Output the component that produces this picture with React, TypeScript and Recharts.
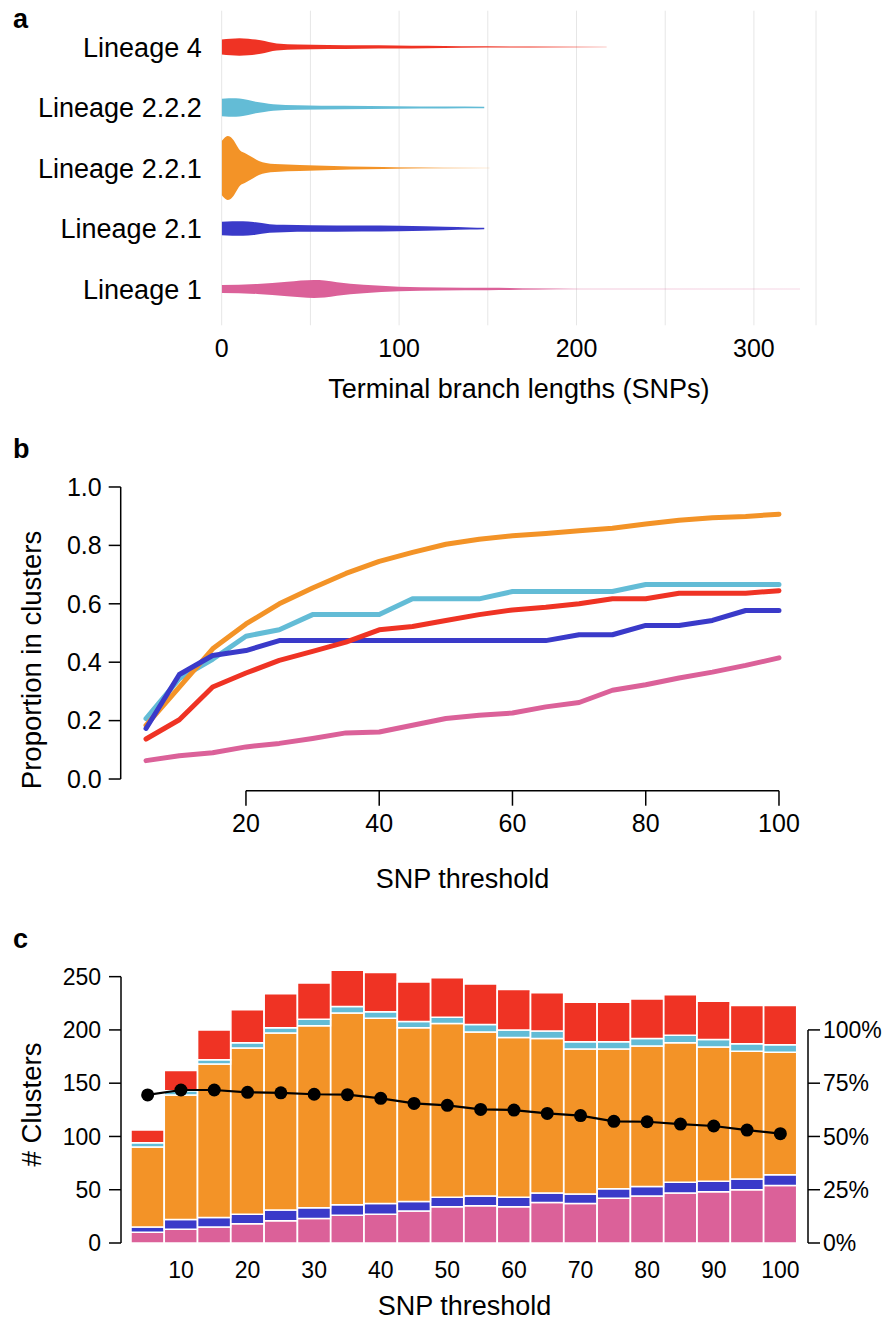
import React from 'react';
import {
  ComposedChart, Area, Line, Bar, XAxis, YAxis, CartesianGrid, ReferenceLine, Label,
} from 'recharts';

const FONT = '"Liberation Sans", Arial, Helvetica, sans-serif';

// ---------- colours ----------
const C_L4 = '#EF3324';
const C_L222 = '#63BCD6';
const C_L221 = '#F39327';
const C_L21 = '#3A3AC9';
const C_L1 = '#DB6199';

// ---------- panel a: violin half-width profiles (SNPs, half-width in % of row spacing) ----------
const lineageNames = ['Lineage 1', 'Lineage 2.1', 'Lineage 2.2.1', 'Lineage 2.2.2', 'Lineage 4'];
const violinL4 = [
  { snp: 0, w: 12.4 }, { snp: 5, w: 13.7 }, { snp: 10, w: 14.5 }, { snp: 15, w: 13.7 },
  { snp: 22, w: 11.1 }, { snp: 31, w: 5.8 }, { snp: 43, w: 4.1 }, { snp: 60, w: 3.3 },
  { snp: 79, w: 2.8 }, { snp: 98, w: 2.5 }, { snp: 116, w: 2.0 }, { snp: 135, w: 1.3 },
  { snp: 164, w: 1.0 }, { snp: 190, w: 0.8 }, { snp: 217, w: 0.7 },
];
const violinL222 = [
  { snp: 0, w: 14.4 }, { snp: 4, w: 15.2 }, { snp: 8, w: 15.4 }, { snp: 12, w: 14.0 },
  { snp: 18, w: 10.2 }, { snp: 24, w: 7.4 }, { snp: 29, w: 5.5 }, { snp: 43, w: 3.8 },
  { snp: 69, w: 2.8 }, { snp: 98, w: 2.1 }, { snp: 126, w: 1.7 }, { snp: 148, w: 1.3 },
];
const violinL221 = [
  { snp: 0, w: 44.6 }, { snp: 1.5, w: 49.6 }, { snp: 3.3, w: 52.9 }, { snp: 5, w: 51.2 },
  { snp: 7, w: 44.6 }, { snp: 9, w: 34.7 }, { snp: 10.4, w: 28.9 }, { snp: 13, w: 24.8 },
  { snp: 16, w: 19.8 }, { snp: 18, w: 16.5 }, { snp: 21, w: 11.6 }, { snp: 25, w: 8.3 },
  { snp: 30, w: 6.6 }, { snp: 44, w: 5.0 }, { snp: 63, w: 3.3 }, { snp: 82, w: 2.1 },
  { snp: 100, w: 1.3 }, { snp: 125, w: 1.0 }, { snp: 151, w: 0.8 },
];
const violinL21 = [
  { snp: 0, w: 11.1 }, { snp: 6, w: 11.9 }, { snp: 12, w: 12.1 }, { snp: 18, w: 10.7 },
  { snp: 27, w: 7.1 }, { snp: 35, w: 6.0 }, { snp: 50, w: 5.5 }, { snp: 79, w: 5.0 },
  { snp: 100, w: 4.5 }, { snp: 115, w: 3.6 }, { snp: 126, w: 2.8 }, { snp: 140, w: 1.7 },
  { snp: 148, w: 1.2 },
];
const violinL1 = [
  { snp: 0, w: 6.6 }, { snp: 20, w: 8.3 }, { snp: 37, w: 12.1 }, { snp: 52, w: 14.9 },
  { snp: 58, w: 14.2 }, { snp: 65, w: 11.1 }, { snp: 80, w: 6.9 }, { snp: 100, w: 3.8 },
  { snp: 124, w: 2.5 }, { snp: 150, w: 2.0 }, { snp: 178, w: 1.3 }, { snp: 200, w: 1.0 },
  { snp: 250, w: 0.8 }, { snp: 326, w: 0.7 },
];
const branchTicks = [0, 50, 100, 150, 200, 250, 300];

// ---------- panel b: proportion in clusters ----------
const snpThresholds = [5, 10, 15, 20, 25, 30, 35, 40, 45, 50, 55, 60, 65, 70, 75, 80, 85, 90, 95, 100];
const propL4 = [0.137, 0.203, 0.315, 0.363, 0.406, 0.437, 0.469, 0.511, 0.522, 0.543, 0.563, 0.579, 0.588, 0.600, 0.617, 0.617, 0.636, 0.636, 0.636, 0.645];
const propL222 = [0.207, 0.344, 0.410, 0.489, 0.511, 0.563, 0.563, 0.563, 0.617, 0.617, 0.617, 0.642, 0.642, 0.642, 0.642, 0.666, 0.666, 0.666, 0.666, 0.666];
const propL221 = [0.184, 0.315, 0.446, 0.531, 0.600, 0.654, 0.704, 0.745, 0.776, 0.804, 0.821, 0.833, 0.841, 0.850, 0.859, 0.873, 0.886, 0.895, 0.899, 0.907];
const propL21 = [0.173, 0.358, 0.423, 0.440, 0.474, 0.474, 0.474, 0.474, 0.474, 0.474, 0.474, 0.474, 0.474, 0.494, 0.494, 0.526, 0.526, 0.543, 0.577, 0.577];
const propL1 = [0.063, 0.080, 0.090, 0.110, 0.122, 0.139, 0.158, 0.161, 0.184, 0.207, 0.218, 0.226, 0.247, 0.262, 0.304, 0.323, 0.346, 0.366, 0.389, 0.415];
const propTicksX = [20, 40, 60, 80, 100];
const propTicksY = [0, 0.2, 0.4, 0.6, 0.8, 1.0];

// ---------- panel c: number of clusters ----------
const clustersL1 = [10, 13, 15, 18, 21, 23, 26, 27, 30, 34, 35, 34, 38, 37, 42, 44, 47, 48, 50, 54];
const clustersL21 = [5, 9, 9, 9, 10, 10, 10, 10, 9, 9, 9, 9, 9, 9, 9, 9, 10, 10, 10, 10];
const clustersL221 = [75, 117, 144, 156, 166, 171, 180, 174, 163, 163, 154, 150, 145, 136, 131, 132, 131, 126, 120, 115];
const clustersL222 = [4, 4, 4, 5, 5, 6, 6, 6, 6, 6, 7, 7, 7, 7, 7, 7, 7, 7, 7, 7];
const clustersL4 = [12, 19, 28, 31, 32, 34, 34, 37, 37, 37, 38, 38, 36, 37, 37, 37, 38, 36, 36, 37];
const pctL221 = [69.5, 71.8, 71.8, 70.7, 70.5, 69.8, 69.6, 67.9, 65.5, 64.6, 62.7, 62.4, 60.8, 59.8, 57.1, 56.9, 55.8, 54.9, 53.0, 51.3];
const clusterTicks = [0, 50, 100, 150, 200, 250];
const pctTicks = [0, 25, 50, 75, 100];

const propData = snpThresholds.map((t, i) => ({
  snp: t, l4: propL4[i], l222: propL222[i], l221: propL221[i], l21: propL21[i], l1: propL1[i],
}));
const clusterData = snpThresholds.map((t, i) => ({
  snp: t, l1: clustersL1[i], l21: clustersL21[i], l221: clustersL221[i], l222: clustersL222[i], l4: clustersL4[i], pct: pctL221[i],
}));

const violins = [
  { key: 'L4', row: 4, data: violinL4, color: C_L4, fade: [[0, 1], [0.8, 1], [1, 0.25]] },
  { key: 'L222', row: 3, data: violinL222, color: C_L222, fade: [[0, 1], [1, 1]] },
  { key: 'L221', row: 2, data: violinL221, color: C_L221, fade: [[0, 1], [0.6, 1], [1, 0.15]] },
  { key: 'L21', row: 1, data: violinL21, color: C_L21, fade: [[0, 1], [1, 1]] },
  { key: 'L1', row: 0, data: violinL1, color: C_L1, fade: [[0, 1], [0.5, 1], [0.62, 0.35], [1, 0.25]] },
];

const tickText = (size: number) => ({ fontSize: size, fill: '#000', fontFamily: FONT });

function PanelLetter({ ch, top }: { ch: string; top: number }) {
  return (
    <div style={{ position: 'absolute', left: 13, top, fontFamily: FONT, fontWeight: 'bold', fontSize: 27, lineHeight: '27px', color: '#000' }}>
      {ch}
    </div>
  );
}

// rotated axis title, centred on the axis box (shifted by `shift` px along the axis)
function verticalTitle(text: string, cx: number, shift: number, size: number) {
  return (props: any) => {
    const vb = props.viewBox || {};
    const cy = (vb.y || 0) + (vb.height || 0) / 2 + shift;
    return (
      <text x={cx} y={cy} transform={`rotate(-90, ${cx}, ${cy})`} textAnchor="middle" dominantBaseline="central"
        style={{ fontSize: size, fill: '#000', fontFamily: FONT }}>
        {text}
      </text>
    );
  };
}

function PanelA() {
  return (
    <ComposedChart width={889} height={410} margin={{ top: 10.7, right: 73, bottom: 0, left: 0 }}>
      <defs>
        {violins.map((v) => (
          <linearGradient key={v.key} id={`fade${v.key}`} x1="0" y1="0" x2="1" y2="0">
            {v.fade.map(([o, a], j) => (
              <stop key={j} offset={o} stopColor={v.color} stopOpacity={a} />
            ))}
          </linearGradient>
        ))}
      </defs>
      <CartesianGrid horizontal={false} stroke="#e6e6e6" strokeWidth={1} />
      <XAxis
        dataKey="snp" type="number" domain={[0, 335]} ticks={branchTicks} interval={0}
        axisLine={false} tickLine={false} tickSize={0} tickMargin={14} height={84.7}
        tickFormatter={(v: number) => (v % 100 === 0 ? String(v) : '')}
        tick={tickText(25)}
        allowDataOverflow
      >
        <Label value="Terminal branch lengths (SNPs)" position="insideBottom" offset={12} style={{ fontSize: 27, fill: '#000', fontFamily: FONT }} />
      </XAxis>
      <YAxis
        type="number" domain={[-0.6, 4.6]} ticks={[0, 1, 2, 3, 4]} interval={0} width={221.7}
        axisLine={false} tickLine={false} tickSize={0} tickMargin={20}
        tickFormatter={(v: number) => lineageNames[v]}
        tick={tickText(27)}
        allowDataOverflow
      />
      {violins.map((v) => (
        <Area
          key={v.key}
          data={v.data}
          dataKey={(d: { w: number }) => [v.row - d.w / 100, v.row + d.w / 100]}
          type="monotone"
          stroke="none"
          fill={`url(#fade${v.key})`}
          fillOpacity={1}
          isAnimationActive={false}
          activeDot={false}
        />
      ))}
    </ComposedChart>
  );
}

function PanelB() {
  const lines = [
    { k: 'l1', c: C_L1 }, { k: 'l222', c: C_L222 }, { k: 'l221', c: C_L221 }, { k: 'l21', c: C_L21 }, { k: 'l4', c: C_L4 },
  ];
  return (
    <ComposedChart width={889} height={480} data={propData} margin={{ top: 55.3, right: 84.7, bottom: 0, left: 0 }}>
      <XAxis
        dataKey="snp" type="number" domain={[1.2, 103.8]} ticks={propTicksX} interval={0}
        axisLine={false} tickLine={{ stroke: '#000', strokeWidth: 1.5 }} tickSize={15} tickMargin={9} height={109.3}
        tick={tickText(25)} allowDataOverflow
      >
        <Label value="SNP threshold" position="insideBottom" offset={12} style={{ fontSize: 27, fill: '#000', fontFamily: FONT }} />
      </XAxis>
      <YAxis
        type="number" domain={[-0.04, 1.04]} ticks={propTicksY} interval={0} width={120.7}
        axisLine={false} tickLine={{ stroke: '#000', strokeWidth: 1.5 }} tickSize={12} tickMargin={7}
        tickFormatter={(v: number) => v.toFixed(1)} tick={tickText(25)} allowDataOverflow
      >
        <Label content={verticalTitle('Proportion in clusters', 31, 27, 27.5)} />
      </YAxis>
      <ReferenceLine segment={[{ x: 20, y: -0.04 }, { x: 100, y: -0.04 }]} stroke="#000" strokeWidth={1.5} ifOverflow="visible" />
      <ReferenceLine segment={[{ x: 1.2, y: 0 }, { x: 1.2, y: 1 }]} stroke="#000" strokeWidth={1.5} ifOverflow="visible" />
      {lines.map((l) => (
        <Line key={l.k} dataKey={l.k} type="linear" stroke={l.c} strokeWidth={5} dot={false} activeDot={false}
          strokeLinejoin="round" strokeLinecap="round" isAnimationActive={false} />
      ))}
    </ComposedChart>
  );
}

function PanelC() {
  const bars = [
    { k: 'l1', c: C_L1 }, { k: 'l21', c: C_L21 }, { k: 'l221', c: C_L221 }, { k: 'l222', c: C_L222 }, { k: 'l4', c: C_L4 },
  ];
  return (
    <ComposedChart width={889} height={399} data={clusterData} barCategoryGap={0} margin={{ top: 36, right: 0, bottom: 0, left: 0 }}>
      <XAxis
        dataKey="snp" type="category" interval={0} padding={{ left: 10, right: 11 }}
        axisLine={false} tickLine={false} tickSize={0} tickMargin={19} height={86}
        tickFormatter={(v: number) => (v % 10 === 0 ? String(v) : '')} tick={tickText(23)}
      >
        <Label value="SNP threshold" position="insideBottom" offset={14} style={{ fontSize: 27, fill: '#000', fontFamily: FONT }} />
      </XAxis>
      <XAxis xAxisId="num" dataKey="snp" type="number" domain={[0.99, 104.3]} hide allowDataOverflow />
      <YAxis
        yAxisId="left" type="number" domain={[0, 260]} ticks={clusterTicks} interval={0} width={121}
        axisLine={false} tickLine={{ stroke: '#000', strokeWidth: 1.5 }} tickSize={12} tickMargin={8}
        tick={tickText(23)} allowDataOverflow
      >
        <Label content={verticalTitle('# Clusters', 31, 0, 27.5)} />
      </YAxis>
      <YAxis
        yAxisId="pct" orientation="right" type="number" domain={[0, 130]} ticks={pctTicks} interval={0} width={81}
        axisLine={false} tickLine={{ stroke: '#000', strokeWidth: 1.5 }} tickSize={12} tickMargin={3}
        tickFormatter={(v: number) => `${v}%`} tick={tickText(23)} allowDataOverflow
      />
      {bars.map((b) => (
        <Bar key={b.k} yAxisId="left" dataKey={b.k} stackId="s" fill={b.c} stroke="#ffffff" strokeWidth={1.5} isAnimationActive={false} />
      ))}
      <Line yAxisId="pct" dataKey="pct" type="linear" stroke="#000" strokeWidth={2.2}
        dot={{ r: 6.5, fill: '#000', stroke: '#000', strokeWidth: 0 }} activeDot={false} isAnimationActive={false} />
      <ReferenceLine xAxisId="num" yAxisId="left" segment={[{ x: 0.99, y: 0 }, { x: 0.99, y: 250 }]} stroke="#000" strokeWidth={1.5} ifOverflow="visible" />
      <ReferenceLine xAxisId="num" yAxisId="pct" segment={[{ x: 104.3, y: 0 }, { x: 104.3, y: 100 }]} stroke="#000" strokeWidth={1.5} ifOverflow="visible" />
    </ComposedChart>
  );
}

export default function App() {
  return (
    <div style={{ position: 'absolute', left: 0, top: 0, width: 889, height: 1329, background: '#fff', fontFamily: FONT }}>
      <div style={{ position: 'absolute', left: 0, top: 0 }}><PanelA /></div>
      <div style={{ position: 'absolute', left: 0, top: 420 }}><PanelB /></div>
      <div style={{ position: 'absolute', left: 0, top: 930 }}><PanelC /></div>
      <PanelLetter ch="a" top={6} />
      <PanelLetter ch="b" top={436} />
      <PanelLetter ch="c" top={926} />
    </div>
  );
}
